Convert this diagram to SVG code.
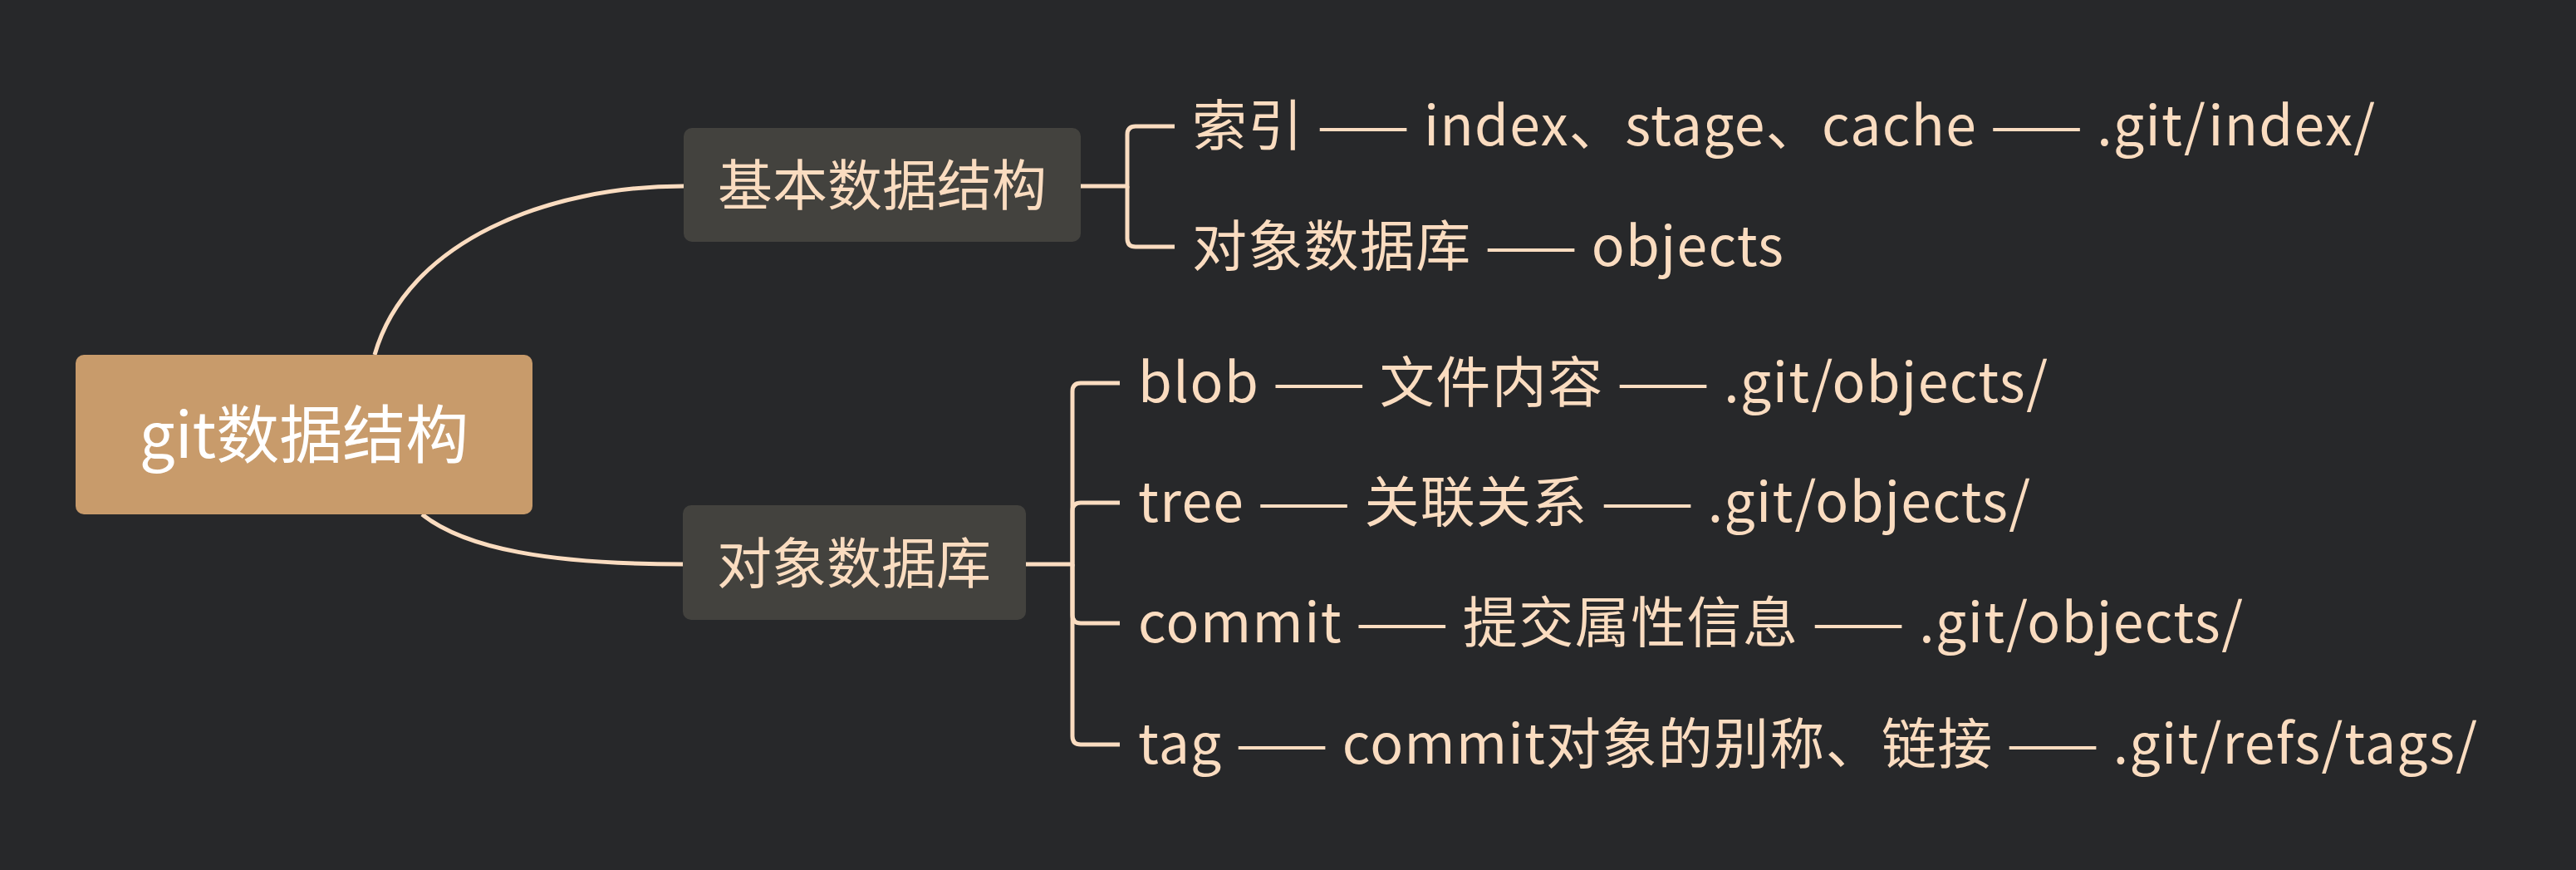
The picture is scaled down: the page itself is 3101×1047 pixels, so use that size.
<svg xmlns="http://www.w3.org/2000/svg" width="3101" height="1047" viewBox="0 0 3101 1047">
<style>
.bg{fill:#27282a}
.root{fill:#c89b6b}
.sub{fill:#43423e}
.t{font-family:"Noto Sans CJK SC","Noto Sans",sans-serif;fill:#fadcc0;font-size:66px;dominant-baseline:central}
.rt{font-family:"Noto Sans CJK SC","Noto Sans",sans-serif;fill:#ffffff;font-size:76px;dominant-baseline:central;text-anchor:middle}
.mid{text-anchor:middle}
.ln{fill:none;stroke:#fadcc0;stroke-width:5;stroke-linecap:butt}
</style>
<rect class="bg" x="0" y="0" width="3101" height="1047"/>
<g id="connectors">
<path class="ln" d="M451,427 C490,290 660,224 823,224"/>
<path class="ln" d="M508,619 C560,660 660,679 823,679"/>
<path class="ln" d="M1301,224 H1357 V162 Q1357,152 1367,152 H1414"/>
<path class="ln" d="M1357,224 V287 Q1357,297 1367,297 H1414"/>
<path class="ln" d="M1235,679 H1291 V471 Q1291,461 1301,461 H1348"/>
<path class="ln" d="M1291,679 V615 Q1291,605 1301,605 H1348"/>
<path class="ln" d="M1291,679 V740 Q1291,750 1301,750 H1348"/>
<path class="ln" d="M1291,679 V886 Q1291,896 1301,896 H1348"/>
</g>
<g id="root">
<rect class="root" x="91" y="427" width="550" height="192" rx="10"/>
<text class="rt" x="366" y="518">git数据结构</text>
</g>
<g id="basic">
<rect class="sub" x="823" y="154" width="478" height="137" rx="10"/>
<text class="t mid" x="1062" y="218">基本数据结构</text>
</g>
<g id="objdb">
<rect class="sub" x="822" y="608" width="413" height="138" rx="10"/>
<text class="t mid" x="1028" y="673">对象数据库</text>
</g>
<g id="index">
<text class="t" x="1435" y="146" textLength="1424" lengthAdjust="spacing">索引 —— index、stage、cache —— .git/index/</text>
</g>
<g id="objects">
<text class="t" x="1435" y="291" textLength="712" lengthAdjust="spacing">对象数据库 —— objects</text>
</g>
<g id="blob">
<text class="t" x="1370" y="455" textLength="1095" lengthAdjust="spacing">blob —— 文件内容 —— .git/objects/</text>
</g>
<g id="tree">
<text class="t" x="1370" y="599" textLength="1074" lengthAdjust="spacing">tree —— 关联关系 —— .git/objects/</text>
</g>
<g id="commit">
<text class="t" x="1370" y="744" textLength="1330" lengthAdjust="spacing">commit —— 提交属性信息 —— .git/objects/</text>
</g>
<g id="tag">
<text class="t" x="1370" y="890" textLength="1612" lengthAdjust="spacing">tag —— commit对象的别称、链接 —— .git/refs/tags/</text>
</g>
</svg>
